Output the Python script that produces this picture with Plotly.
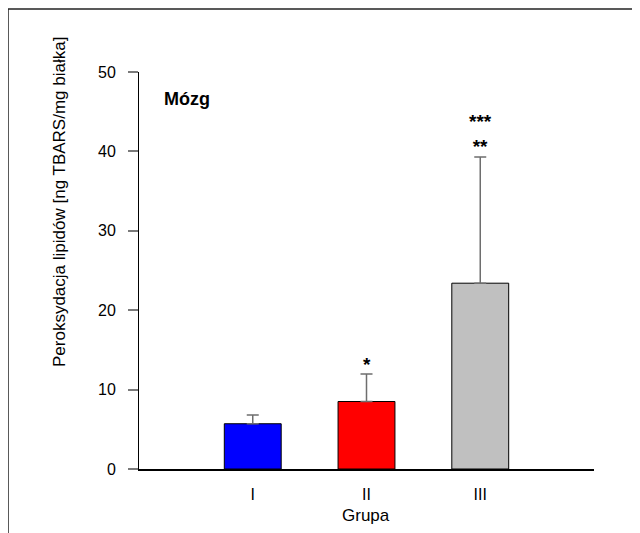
import plotly.graph_objects as go

groups = ["I", "II", "III"]
means = [5.7, 8.5, 23.4]
sd_up = [1.1, 3.45, 15.9]
colors = ["#0000FF", "#FF0000", "#C0C0C0"]
sig_labels = ["", "*", "***<br>**"]
sig_y = [0, 13.1, 39.0]
sig_anchor = ["middle", "middle", "bottom"]

y_title = "Peroksydacja lipidów [ng TBARS/mg białka]"
x_title = "Grupa"
panel_label = "Mózg"
y_ticks = [0, 10, 20, 30, 40, 50]

FONT = "Liberation Sans, Arial, sans-serif"
OFF = 8  # page body offset
L, T = 139 - OFF, 72 - OFF
W, H = 640, 533
pw, ph = 455, 397
R, B = W - L - pw, H - T - ph

def px_x(p):
    return (p - OFF - L) / pw

def px_y(p):
    return (T + ph - (p - OFF)) / ph

fig = go.Figure()
fig.add_trace(go.Bar(
    x=list(range(len(groups))), y=means, width=0.5,
    marker=dict(color=colors, line=dict(color="black", width=1)),
    error_y=dict(type="data", symmetric=False, array=sd_up, arrayminus=[0] * 3,
                 color="#6e6e6e", thickness=1.5, width=6),
    showlegend=False, hoverinfo="skip",
))

for i, (lab, yy, anc) in enumerate(zip(sig_labels, sig_y, sig_anchor)):
    if lab:
        fig.add_annotation(x=i, y=yy, text="<b>" + lab + "</b>", showarrow=False, yanchor=anc,
                           font=dict(family=FONT, size=19, color="black"))

fig.add_annotation(xref="paper", yref="paper", x=px_x(162), y=px_y(99), text="<b>" + panel_label + "</b>",
                   showarrow=False, xanchor="left", yanchor="middle",
                   font=dict(family=FONT, size=18, color="black"))
fig.add_annotation(xref="paper", yref="paper", x=px_x(59), y=px_y(202), text=y_title,
                   textangle=-90, showarrow=False, xanchor="center", yanchor="middle",
                   font=dict(family=FONT, size=17, color="black"))
fig.add_annotation(xref="paper", yref="paper", x=px_x(366), y=px_y(515), text=x_title,
                   showarrow=False, xanchor="center", yanchor="middle",
                   font=dict(family=FONT, size=17, color="black"))

# outer frame (left and top edges visible)
fig.add_shape(type="line", xref="paper", yref="paper", x0=px_x(8), x1=px_x(8), y0=px_y(9), y1=px_y(560),
              line=dict(color="#222", width=1.5))
fig.add_shape(type="line", xref="paper", yref="paper", x0=px_x(8), x1=px_x(660), y0=px_y(9), y1=px_y(9),
              line=dict(color="#222", width=1.5))

fig.update_xaxes(range=[-1, 3], tickvals=list(range(len(groups))), ticktext=groups,
                 showline=True, linecolor="black", linewidth=2, ticks="", ticklabelstandoff=10,
                 showgrid=False, zeroline=False,
                 tickfont=dict(family=FONT, size=16, color="black"))
fig.update_yaxes(range=[0, 50], tickvals=y_ticks, showline=True, linecolor="black", linewidth=1,
                 ticks="outside", ticklen=10, tickcolor="#7a7a7a", tickwidth=1.5,
                 ticklabelstandoff=9, showgrid=False, zeroline=False,
                 tickfont=dict(family=FONT, size=16, color="black"))

fig.update_layout(width=W, height=H, margin=dict(l=L, r=R, t=T, b=B, autoexpand=False),
                  plot_bgcolor="white", paper_bgcolor="white", bargap=0.5)

fig.write_html("out.html")
